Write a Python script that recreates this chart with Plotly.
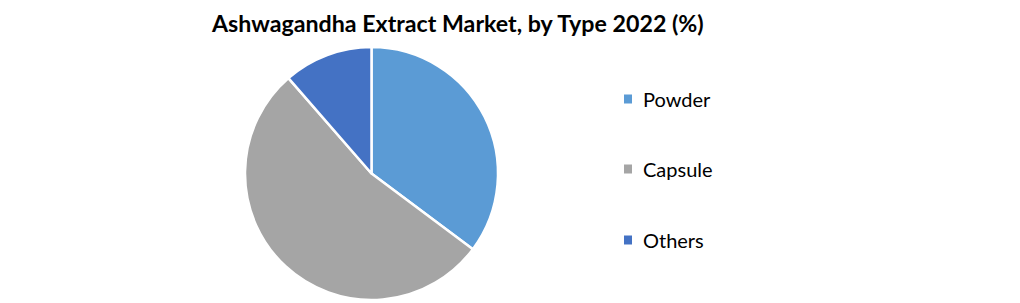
import plotly.graph_objects as go

title = "Ashwagandha Extract Market, by Type 2022 (%)"
labels = ["Powder", "Capsule", "Others"]
values = [35.2, 53.4, 11.4]
colors = ["#5B9BD5", "#A5A5A5", "#4472C4"]

W, H = 1020, 303

fig = go.Figure()
fig.add_trace(go.Pie(
    labels=labels, values=values, sort=False, direction="clockwise", rotation=0,
    marker=dict(colors=colors, line=dict(color="white", width=2.5)),
    textinfo="none", hoverinfo="label+percent", showlegend=False,
    domain=dict(x=[245 / W, 498 / W], y=[1 - 300 / H, 1 - 47 / H]),
))

fig.add_annotation(text="<b>" + title + "</b>", x=457 / W, y=1 - 23 / H,
                   xref="paper", yref="paper", showarrow=False,
                   xanchor="center", yanchor="middle",
                   font=dict(family="Lato", size=23.2, color="#000000"))

leg_y = [99, 169, 240]
for lab, col, yy in zip(labels, colors, leg_y):
    fig.add_shape(type="rect", xref="paper", yref="paper",
                  x0=624 / W, x1=632 / W, y0=1 - (yy + 4.5) / H, y1=1 - (yy - 4.5) / H,
                  fillcolor=col, line=dict(width=0))
    fig.add_annotation(text=lab, x=641 / W, y=1 - yy / H, xref="paper", yref="paper",
                       showarrow=False, xanchor="left", yanchor="middle",
                       font=dict(family="Lato", size=20, color="#000000"))

fig.update_layout(width=W, height=H, margin=dict(l=0, r=0, t=0, b=0),
                  paper_bgcolor="white", plot_bgcolor="white")
fig.write_html("out.html")
